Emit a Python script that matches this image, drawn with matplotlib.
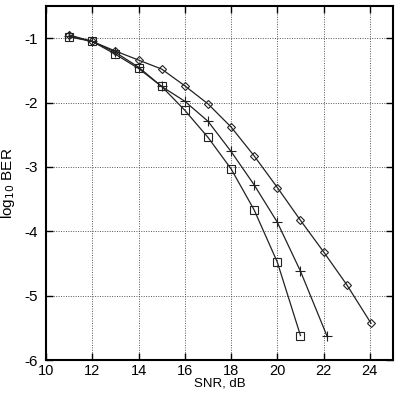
import matplotlib.pyplot as plt

plt.rcParams['font.family'] = ['Liberation Sans', 'DejaVu Sans']
plt.rcParams['axes.unicode_minus'] = False

snr_diamond = [11, 12, 13, 14, 15, 16, 17, 18, 19, 20, 21, 22, 23, 24.05]
ber_diamond = [-0.95, -1.05, -1.2, -1.34, -1.48, -1.74, -2.02, -2.38, -2.83,
               -3.32, -3.83, -4.32, -4.83, -5.43]

snr_plus = [11, 12, 13, 14, 15, 16, 17, 18, 19, 20, 21, 22.15]
ber_plus = [-0.97, -1.05, -1.22, -1.45, -1.75, -1.98, -2.29, -2.76, -3.28,
            -3.86, -4.62, -5.63]

snr_square = [11, 12, 13, 14, 15, 16, 17, 18, 19, 20, 21]
ber_square = [-0.98, -1.05, -1.25, -1.47, -1.75, -2.12, -2.54, -3.03, -3.67,
              -4.48, -5.62]

fig = plt.figure(figsize=(4.01, 3.94), dpi=100)
ax = fig.add_axes([46 / 401, 34 / 394, 347 / 401, 354 / 394])

style = dict(color='#222222', lw=0.9, mfc='none', mec='#222222', mew=0.8)
ax.plot(snr_diamond, ber_diamond, marker='D', ms=4.5, **style)
ax.plot(snr_plus, ber_plus, marker='+', ms=7, **style)
ax.plot(snr_square, ber_square, marker='s', ms=6, **style)

ax.set_xlim(10, 25)
ax.set_ylim(-6, -0.5)
ax.set_xticks(range(10, 25, 2))
ax.set_yticks(range(-6, 0))
ax.grid(True, color='#555555', linestyle=(0, (1, 1.5)), lw=0.7)
ax.tick_params(direction='in', top=True, right=True, length=5, width=1,
               labelsize=11, pad=6)
ax.tick_params(axis='x', pad=3, labelsize=10.5)
for s in ax.spines.values():
    s.set_linewidth(1.5)

ax.set_xlabel('SNR, dB', fontsize=9.5)
ax.xaxis.set_label_coords(0.5, -0.05)
ax.set_ylabel('log$_{10}$ BER', fontsize=11, labelpad=5)

fig.savefig('out.png', dpi=100)
